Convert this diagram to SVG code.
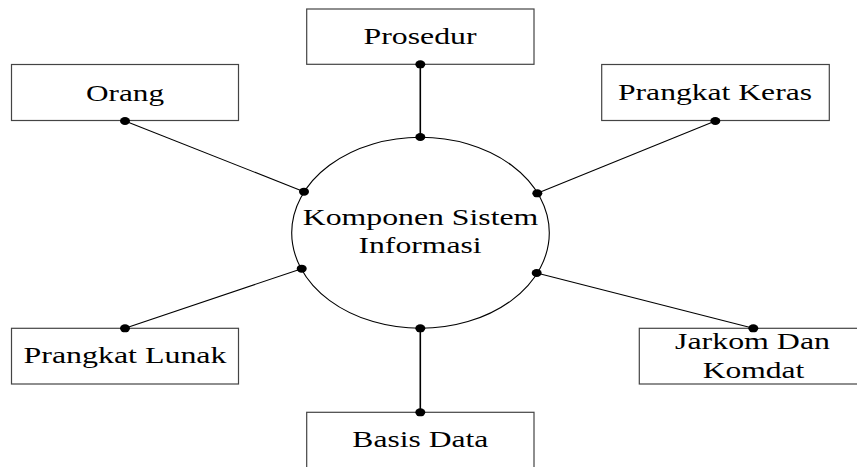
<svg xmlns="http://www.w3.org/2000/svg" width="857" height="467" viewBox="0 0 857 467">
<style>
.box{fill:#fff;stroke:#444;stroke-width:1.2}
.lbl{font-family:"Liberation Serif","Times New Roman",serif;font-size:22.5px;fill:#000;text-anchor:middle}
.con{stroke:#000;stroke-width:1.1;fill:none}
.v{stroke-width:1.6}
.dot{fill:#000}
</style>
<rect width="857" height="467" fill="#fff"/>
<g id="connectors">
<line class="con" x1="125" y1="121" x2="304" y2="191.7"/>
<line class="con v" x1="420.3" y1="64.3" x2="420.3" y2="137"/>
<line class="con" x1="715.3" y1="121" x2="537.3" y2="193.3"/>
<line class="con" x1="125" y1="328.3" x2="301.7" y2="268.7"/>
<line class="con v" x1="420.3" y1="412.3" x2="420.3" y2="328.3"/>
<line class="con" x1="753.3" y1="328.3" x2="536.7" y2="273"/>
</g>
<g id="center">
<ellipse cx="420.5" cy="232.8" rx="128.8" ry="95.5" fill="#fff" stroke="#000" stroke-width="1.1"/>
<text class="lbl" transform="translate(420.5 225) scale(1.4 1)" textLength="168.3" lengthAdjust="spacingAndGlyphs">Komponen Sistem</text>
<text class="lbl" transform="translate(420 253) scale(1.4 1)" textLength="87.9" lengthAdjust="spacingAndGlyphs">Informasi</text>
</g>
<g id="orang">
<rect class="box" x="11.5" y="64.5" width="227" height="56"/>
<text class="lbl" transform="translate(125 100.7) scale(1.4 1)" textLength="55.7" lengthAdjust="spacingAndGlyphs">Orang</text>
</g>
<g id="prosedur">
<rect class="box" x="306.7" y="9" width="227.3" height="55.3"/>
<text class="lbl" transform="translate(420 44.3) scale(1.4 1)" textLength="80.7" lengthAdjust="spacingAndGlyphs">Prosedur</text>
</g>
<g id="prangkat-keras">
<rect class="box" x="601.7" y="64.5" width="227.6" height="56"/>
<text class="lbl" transform="translate(715 100) scale(1.4 1)" textLength="138.6" lengthAdjust="spacingAndGlyphs">Prangkat Keras</text>
</g>
<g id="prangkat-lunak">
<rect class="box" x="11.5" y="328.3" width="227" height="55.7"/>
<text class="lbl" transform="translate(125 362.7) scale(1.4 1)" textLength="145" lengthAdjust="spacingAndGlyphs">Prangkat Lunak</text>
</g>
<g id="basis-data">
<rect class="box" x="306.7" y="412.3" width="227.3" height="70"/>
<text class="lbl" transform="translate(420.3 446.7) scale(1.4 1)" textLength="97.1" lengthAdjust="spacingAndGlyphs">Basis Data</text>
</g>
<g id="jarkom">
<rect class="box" x="639.3" y="328.3" width="230" height="55.7"/>
<text class="lbl" transform="translate(752.5 349.3) scale(1.4 1)" textLength="110.7" lengthAdjust="spacingAndGlyphs">Jarkom Dan</text>
<text class="lbl" transform="translate(753.5 378.3) scale(1.4 1)" textLength="72.6" lengthAdjust="spacingAndGlyphs">Komdat</text>
</g>
<g id="dots">
<ellipse class="dot" cx="125" cy="121" rx="5" ry="4"/>
<ellipse class="dot" cx="304" cy="191.7" rx="5" ry="4"/>
<ellipse class="dot" cx="420.3" cy="64.3" rx="5" ry="4"/>
<ellipse class="dot" cx="420.3" cy="137" rx="5" ry="4"/>
<ellipse class="dot" cx="715.3" cy="121" rx="5" ry="4"/>
<ellipse class="dot" cx="537.3" cy="193.3" rx="5" ry="4"/>
<ellipse class="dot" cx="125" cy="328.3" rx="5" ry="4"/>
<ellipse class="dot" cx="301.7" cy="268.7" rx="5" ry="4"/>
<ellipse class="dot" cx="420.3" cy="412.3" rx="5" ry="4"/>
<ellipse class="dot" cx="420.3" cy="328.3" rx="5" ry="4"/>
<ellipse class="dot" cx="753.3" cy="328.3" rx="5" ry="4"/>
<ellipse class="dot" cx="536.7" cy="273" rx="5" ry="4"/>
</g>
</svg>
